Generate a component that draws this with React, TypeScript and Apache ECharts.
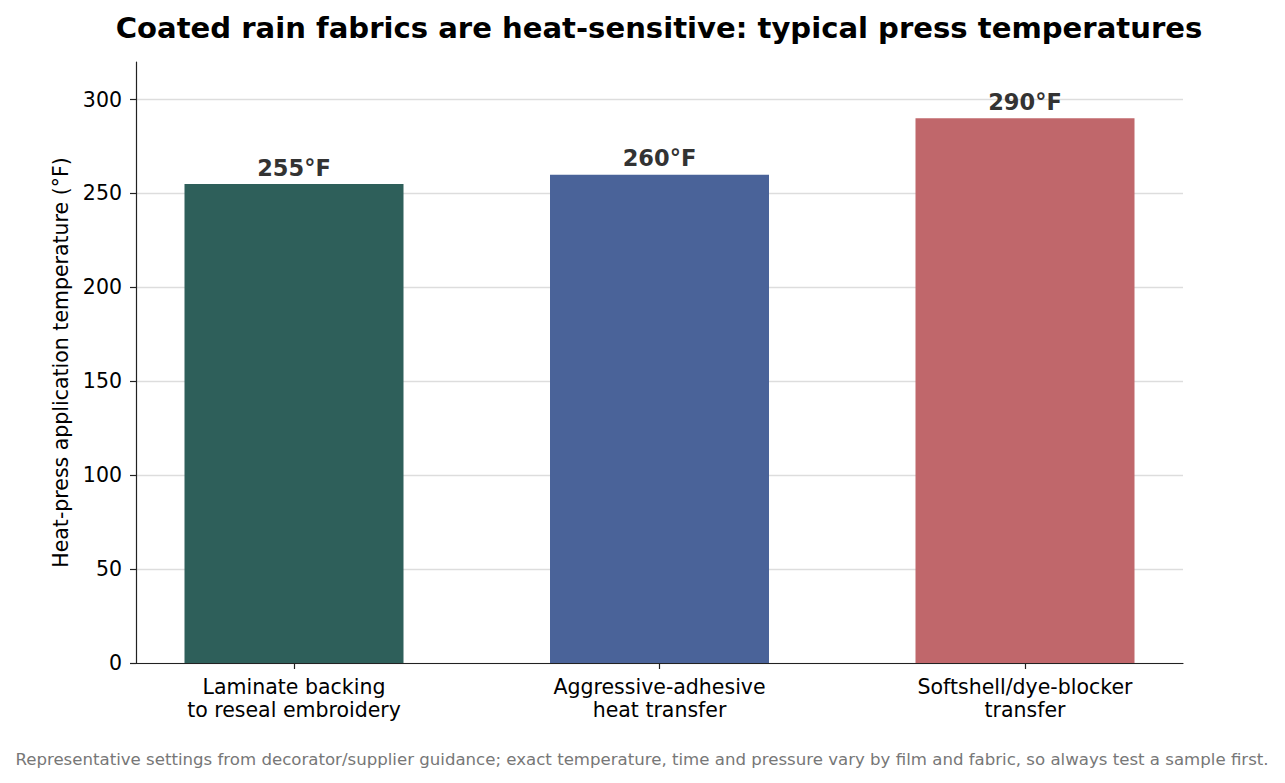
import React, { useEffect, useRef } from 'react';
import * as echarts from 'echarts';

const titleText = 'Coated rain fabrics are heat-sensitive: typical press temperatures';
const footerText =
  'Representative settings from decorator/supplier guidance; exact temperature, time and pressure vary by film and fabric, so always test a sample first.';
const yAxisName = 'Heat-press application temperature (°F)';

const categories = [
  'Laminate backing\nto reseal embroidery',
  'Aggressive-adhesive\nheat transfer',
  'Softshell/dye-blocker\ntransfer',
];
const temperatures = [255, 260, 290];
const barColors = ['#2e5f5a', '#4a6399', '#c0676b'];
const yTicks = [0, 50, 100, 150, 200, 250, 300];

const FONT = '"DejaVu Sans", sans-serif';

const App: React.FC = () => {
  const chartRef = useRef<HTMLDivElement>(null);

  useEffect(() => {
    if (!chartRef.current) return;
    const chart = echarts.init(chartRef.current, undefined, { renderer: 'svg' });

    const option = {
      animation: false,
      backgroundColor: '#ffffff',
      textStyle: { fontFamily: FONT },
      grid: [
        // bars: wider band so category centres line up with the reference
        { left: 111.25, right: 77.25, top: 62, bottom: 120 },
        // frame: axis lines, ticks and gridlines
        { left: 136, right: 102, top: 62, bottom: 120 },
      ],
      xAxis: [
        {
          type: 'category',
          gridIndex: 0,
          data: categories,
          axisLine: { show: false },
          axisTick: { show: true, alignWithLabel: true, length: 6, lineStyle: { color: '#222', width: 1.2 } },
          axisLabel: { color: '#000', fontSize: 20.5, fontFamily: FONT, margin: 12.5, lineHeight: 23 },
        },
        {
          type: 'value',
          gridIndex: 1,
          min: 0,
          max: 1,
          axisLine: { show: true, lineStyle: { color: '#222', width: 1.2 } },
          axisTick: { show: false },
          axisLabel: { show: false },
          splitLine: { show: false },
        },
      ],
      yAxis: [
        {
          type: 'value',
          gridIndex: 0,
          min: 0,
          max: 320,
          show: false,
          splitLine: { show: false },
        },
        {
          type: 'value',
          gridIndex: 1,
          min: 0,
          max: 320,
          interval: 50,
          name: yAxisName,
          nameLocation: 'middle',
          nameGap: 60,
          nameTextStyle: { color: '#000', fontSize: 20.5, fontFamily: FONT },
          axisLine: { show: true, lineStyle: { color: '#222', width: 1.2 } },
          axisTick: { show: true, length: 6, customValues: yTicks, lineStyle: { color: '#222', width: 1.2 } },
          axisLabel: { color: '#000', fontSize: 20.5, fontFamily: FONT, margin: 14, customValues: yTicks },
          splitLine: {
            show: true,
            lineStyle: {
              color: ['#dddddd', '#dddddd', '#dddddd', '#dddddd', '#dddddd', '#dddddd', '#dddddd', 'rgba(0,0,0,0)'],
              width: 1.3,
            },
          },
        },
      ],
      series: [
        {
          type: 'bar',
          xAxisIndex: 0,
          yAxisIndex: 0,
          barWidth: 219,
          data: temperatures.map((v, i) => ({ value: v, itemStyle: { color: barColors[i] } })),
          label: {
            show: true,
            position: 'top',
            distance: 5,
            formatter: '{c}°F',
            color: '#333333',
            fontWeight: 'bold',
            fontSize: 22.5,
            fontFamily: FONT,
          },
        },
      ],
      graphic: [
        {
          type: 'text',
          style: {
            text: titleText,
            x: 659,
            y: 28,
            align: 'center',
            verticalAlign: 'middle',
            fill: '#000',
            font: `bold 29.1px ${FONT}`,
          },
        },
        {
          type: 'text',
          style: {
            text: footerText,
            x: 642,
            y: 759,
            align: 'center',
            verticalAlign: 'middle',
            fill: '#777777',
            font: `16.6px ${FONT}`,
          },
        },
      ],
    };

    chart.setOption(option as any);

    const handleResize = () => chart.resize();
    window.addEventListener('resize', handleResize);
    return () => {
      window.removeEventListener('resize', handleResize);
      chart.dispose();
    };
  }, []);

  return (
    <div
      ref={chartRef}
      style={{ position: 'fixed', left: 0, top: 0, width: '100vw', height: '100vh' }}
    />
  );
};

export default App;
